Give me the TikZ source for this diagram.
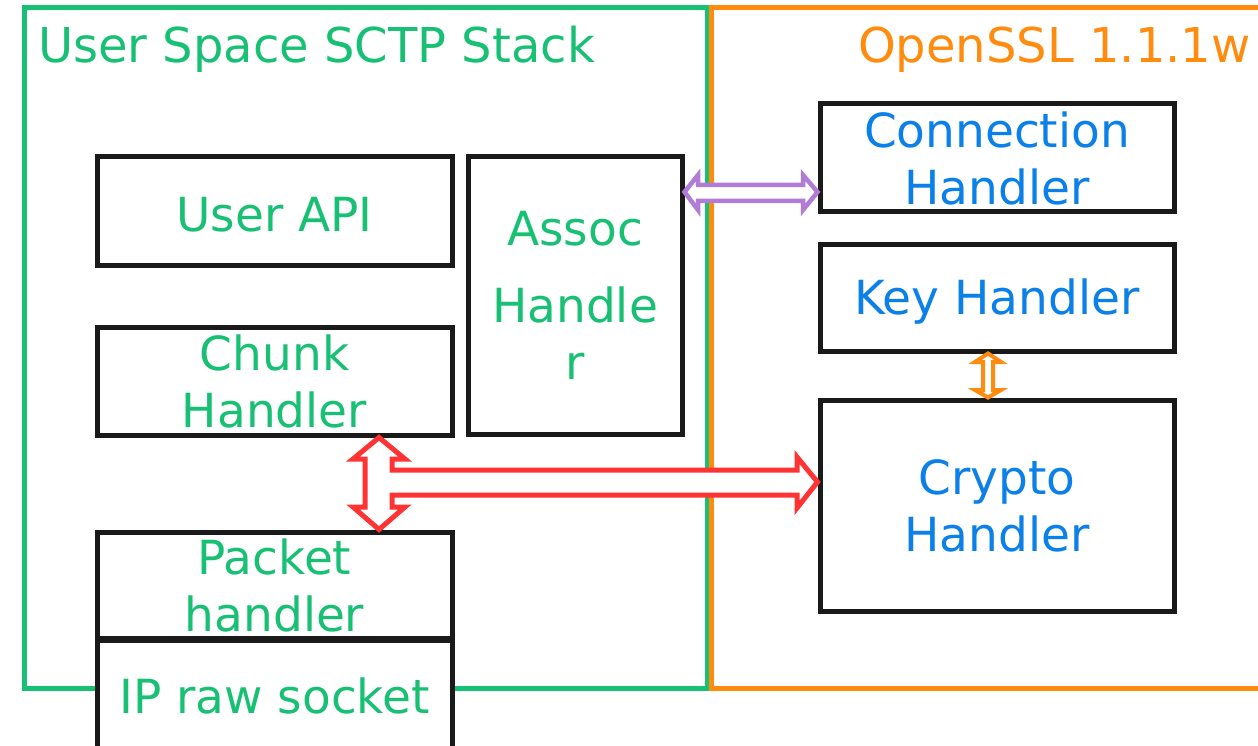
\documentclass[tikz,border=0pt]{standalone}
\usepackage{fontspec}
\setmainfont{DejaVu Sans}
\definecolor{sgreen}{RGB}{24,192,116}
\definecolor{sorange}{RGB}{255,140,15}
\definecolor{sblue}{RGB}{10,128,232}
\definecolor{sred}{RGB}{255,51,51}
\definecolor{spurple}{RGB}{176,124,216}
\definecolor{sblack}{RGB}{26,26,26}
\tikzset{
  blk/.style={draw=sblack, line width=5pt, fill=white, inner sep=0pt, align=center,
    font=\fontsize{47}{57}\selectfont},
  gtxt/.style={text=sgreen},
  btxt/.style={text=sblue},
  frame/.style={line width=5pt},
  arr/.style={line width=4.5pt, fill=white, line join=miter},
}
\begin{document}
\begin{tikzpicture}[x=1pt,y=-1pt]
\useasboundingbox (0,0) rectangle (1258,746);
\clip (0,0) rectangle (1258,746);
% frames
\draw[frame, draw=sgreen] (24,8) rectangle (707,688);
\draw[frame, draw=sorange] (711,8) rectangle (1275,688);
\node[anchor=base west, text=sgreen, inner sep=0pt, font=\fontsize{48}{57}\selectfont] (t1) at (38,63) {User Space SCTP Stack};
\node[anchor=base west, text=sorange, inner sep=0pt, font=\fontsize{48}{57}\selectfont] (t2) at (858,63) {OpenSSL 1.1.1w};
% left boxes
\node[blk, gtxt, minimum width=355pt, minimum height=108pt, text height=40pt, text depth=0pt] (api) at (274.5,211) {User API};
\node[blk, gtxt, minimum width=214pt, minimum height=277pt] (assoc) at (575,295.5) {Assoc\\[20pt]Handle\\r};
\node[blk, gtxt, minimum width=355pt, minimum height=108pt] (chunk) at (274.5,381) {Chunk\\Handler};
\node[blk, gtxt, minimum width=355pt, minimum height=106pt] (packet) at (274.5,585) {Packet\\handler};
\node[blk, gtxt, minimum width=355pt, minimum height=112pt] (ip) at (274.5,696) {IP raw socket};
% right boxes
\node[blk, btxt, minimum width=354pt, minimum height=108pt] (conn) at (997,158) {Connection\\Handler};
\node[blk, btxt, minimum width=354pt, minimum height=107pt, text height=44pt, text depth=11pt] (key) at (997,297.5) {Key Handler};
\node[blk, btxt, minimum width=354pt, minimum height=211pt] (crypto) at (997,505.5) {Crypto\\Handler};
% purple double arrow assoc <-> conn
\draw[arr, draw=spurple]
  (assoc.east |- 0,192) -- (698,175) -- (698,185) -- (803,185) -- (803,175)
  -- (conn.west |- 0,192) -- (803,210) -- (803,201) -- (698,201) -- (698,210) -- cycle;
% orange double arrow key <-> crypto
\draw[arr, draw=sorange, line width=4pt]
  (key.south -| 988,0) -- (1001,362) -- (993,362) -- (993,390) -- (1001,390)
  -- (crypto.north -| 988,0) -- (975,390) -- (983,390) -- (983,362) -- (975,362) -- cycle;
% red T arrow chunk <-> packet, -> crypto
\draw[arr, draw=sred, line width=5pt]
  (chunk.south -| 379,0) -- (405,459) -- (392,459) -- (392,470) -- (797,470) -- (797,457)
  -- (crypto.west |- 0,482) -- (797,508) -- (797,495) -- (392,495) -- (392,507) -- (405,507)
  -- (packet.north -| 379,0) -- (353,507) -- (365,507) -- (365,459) -- (353,459) -- cycle;
\end{tikzpicture}
\end{document}
